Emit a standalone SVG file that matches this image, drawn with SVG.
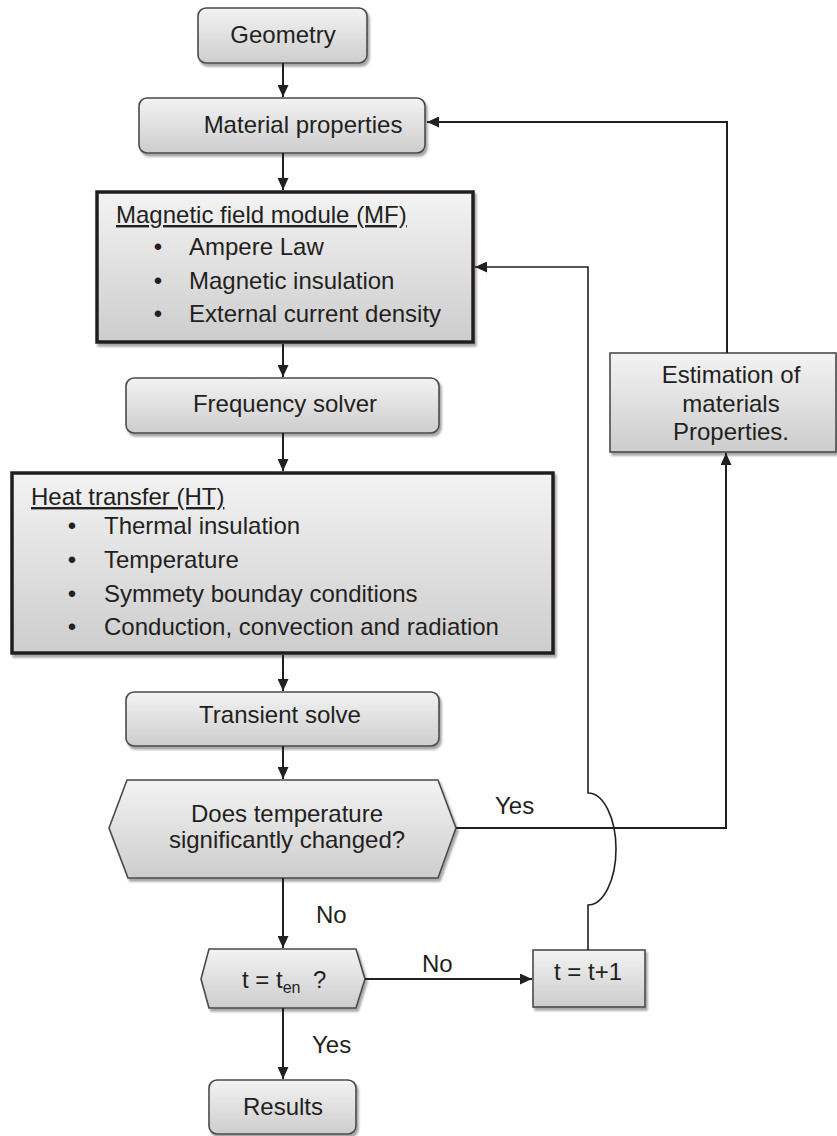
<svg xmlns="http://www.w3.org/2000/svg" width="837" height="1136" viewBox="0 0 837 1136">
<defs>
<linearGradient id="g" x1="0" y1="0" x2="0" y2="1">
<stop offset="0" stop-color="#f3f3f3"/>
<stop offset="1" stop-color="#cdcdcd"/>
</linearGradient>
<marker id="ah" markerUnits="userSpaceOnUse" markerWidth="13" markerHeight="11" refX="12" refY="5.5" orient="auto">
<path d="M0,0 L12,5.5 L0,11 z" fill="#231f20"/>
</marker>
<filter id="sh" x="-5%" y="-5%" width="115%" height="125%">
<feGaussianBlur in="SourceAlpha" stdDeviation="1.2"/>
<feOffset dx="2" dy="3" result="b"/>
<feComponentTransfer><feFuncA type="linear" slope="0.35"/></feComponentTransfer>
<feMerge><feMergeNode/><feMergeNode in="SourceGraphic"/></feMerge>
</filter>
</defs>
<style>
.box{fill:url(#g);stroke:#4a4a4a;stroke-width:1.6;filter:url(#sh)}
.bold{fill:url(#g);stroke:#231f20;stroke-width:3.5;filter:url(#sh)}
text{font-family:"Liberation Sans",Arial,sans-serif;font-size:24px;fill:#231f20}
.c{text-anchor:middle}
.bul{text-anchor:middle}
.ln{fill:none;stroke:#231f20;stroke-width:2}
.thin{fill:none;stroke:#231f20;stroke-width:1.6}
</style>

<g id="geometry">
<rect class="box" x="198" y="8" width="169" height="55" rx="8"/>
<text class="c" x="283" y="43">Geometry</text>
</g>

<g id="material">
<rect class="box" x="139" y="98" width="286" height="55" rx="8"/>
<text class="c" x="303" y="133">Material properties</text>
</g>

<g id="mf">
<rect class="bold" x="97" y="192" width="376" height="150"/>
<text x="116" y="223" text-decoration="underline">Magnetic field module (MF)</text>
<text class="bul" x="158" y="255">•</text><text x="189" y="255">Ampere Law</text>
<text class="bul" x="158" y="289">•</text><text x="189" y="289">Magnetic insulation</text>
<text class="bul" x="158" y="322">•</text><text x="189" y="322">External current density</text>
</g>

<g id="frequency">
<rect class="box" x="126" y="378" width="313" height="55" rx="8"/>
<text class="c" x="285" y="412">Frequency solver</text>
</g>

<g id="ht">
<rect class="bold" x="12" y="473" width="541" height="180"/>
<text x="31" y="505" text-decoration="underline">Heat transfer (HT)</text>
<text class="bul" x="72" y="534">•</text><text x="104" y="534">Thermal insulation</text>
<text class="bul" x="72" y="568">•</text><text x="104" y="568">Temperature</text>
<text class="bul" x="72" y="602">•</text><text x="104" y="602">Symmety bounday conditions</text>
<text class="bul" x="72" y="635">•</text><text x="104" y="635">Conduction, convection and radiation</text>
</g>

<g id="transient">
<rect class="box" x="126" y="692" width="313" height="54" rx="8"/>
<text class="c" x="280" y="723">Transient solve</text>
</g>

<g id="decision">
<polygon class="box" points="109,828 127,780 438,780 456,828 438,878 128,878"/>
<text class="c" x="287" y="822">Does temperature</text>
<text class="c" x="287" y="848">significantly changed?</text>
</g>

<g id="tcheck">
<polygon class="box" points="201,979 209,949 356,949 365,979 356,1008 209,1008"/>
<text x="242" y="988">t = t<tspan font-size="16" dy="5">en</tspan></text>
<text x="313" y="988">?</text>
</g>

<g id="results">
<rect class="box" x="209" y="1080" width="147" height="54" rx="8"/>
<text class="c" x="283" y="1115">Results</text>
</g>

<g id="increment">
<rect class="box" x="533" y="950" width="112" height="57"/>
<text class="c" x="588" y="980">t = t+1</text>
</g>

<g id="estimation">
<rect class="box" x="610" y="353" width="226" height="99"/>
<text class="c" x="731" y="383">Estimation of</text>
<text class="c" x="731" y="412">materials</text>
<text class="c" x="731" y="440">Properties.</text>
</g>

<g id="connectors">
<line class="ln" x1="283" y1="63" x2="283" y2="97" marker-end="url(#ah)"/>
<line class="ln" x1="283" y1="153" x2="283" y2="190" marker-end="url(#ah)"/>
<line class="ln" x1="283" y1="344" x2="283" y2="377" marker-end="url(#ah)"/>
<line class="ln" x1="283" y1="433" x2="283" y2="471" marker-end="url(#ah)"/>
<line class="ln" x1="283" y1="655" x2="283" y2="691" marker-end="url(#ah)"/>
<line class="ln" x1="283" y1="746" x2="283" y2="779" marker-end="url(#ah)"/>
<line class="ln" x1="283" y1="878" x2="283" y2="948" marker-end="url(#ah)"/>
<line class="ln" x1="283" y1="1008" x2="283" y2="1079" marker-end="url(#ah)"/>
<line class="ln" x1="365" y1="979" x2="532" y2="979" marker-end="url(#ah)"/>
<polyline class="ln" points="456,828 726,828 726,453" marker-end="url(#ah)"/>
<polyline class="ln" points="727,353 727,122 427,122" marker-end="url(#ah)"/>
<path class="thin" d="M588,950 V905 A28,56 0 0 0 588,793 V267 H475" marker-end="url(#ah)"/>
<text x="316" y="923">No</text>
<text x="312" y="1053">Yes</text>
<text x="422" y="972">No</text>
<text x="495" y="814">Yes</text>
</g>
</svg>
